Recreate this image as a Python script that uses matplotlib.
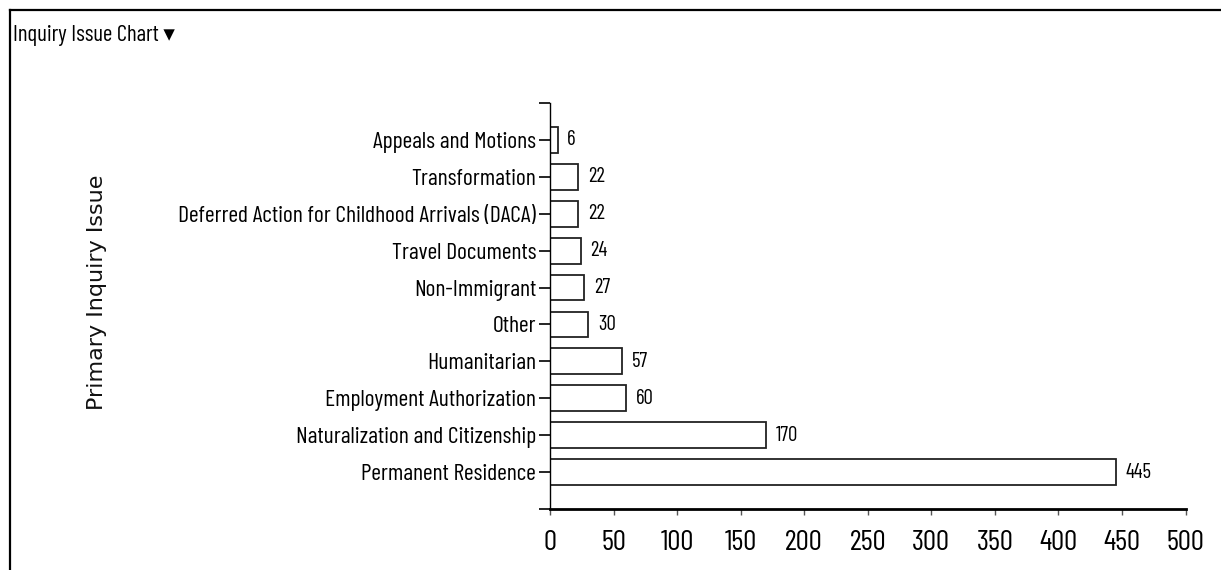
import matplotlib
matplotlib.use("Agg")
import matplotlib.pyplot as plt
from matplotlib.lines import Line2D
import numpy as np

# --- data: inquiry counts by primary issue (top to bottom as shown) ---
issues = [
    "Appeals and Motions",
    "Transformation",
    "Deferred Action for Childhood Arrivals (DACA)",
    "Travel Documents",
    "Non-Immigrant",
    "Other",
    "Humanitarian",
    "Employment Authorization",
    "Naturalization and Citizenship",
    "Permanent Residence",
]
counts = [6, 22, 22, 24, 27, 30, 57, 60, 170, 445]
x_ticks = [0, 50, 100, 150, 200, 250, 300, 350, 400, 450, 500]

# condensed face for the labels, DejaVu as the last resort
narrow = ["Barlow Condensed", "Archivo Narrow", "Liberation Sans Narrow",
          "DejaVu Sans"]

fig = plt.figure(figsize=(12.21, 5.70), dpi=100)
fig.patch.set_facecolor("white")

# panel frame: top and left edge only
fig.add_artist(Line2D([10 / 1221, 1], [1 - 10 / 570, 1 - 10 / 570],
                      transform=fig.transFigure, color="black", lw=1.6))
fig.add_artist(Line2D([10 / 1221, 10 / 1221], [0, 1 - 10 / 570],
                      transform=fig.transFigure, color="black", lw=1.6))

fig.text(13 / 1221, 1 - 35 / 570, "Inquiry Issue Chart \u25be", family=narrow,
         fontsize=16.5, ha="left", va="center", color="black")

ax = fig.add_axes([550 / 1221, 61 / 570, 635.6 / 1221, 406 / 570])

# bottom bar first so the list reads top-down
ypos = np.arange(len(issues))[::-1]
bars = ax.barh(ypos, counts, height=0.7, color="white",
               edgecolor="#222222", linewidth=1.3)
ax.bar_label(bars, labels=[str(c) for c in counts], padding=7,
             family=narrow, fontsize=15)

ax.set_xlim(0, 500)
ax.set_ylim(-1, 10)
ax.set_xticks(x_ticks)
ax.set_xticklabels([str(t) for t in x_ticks], family=narrow, fontsize=21)
ax.set_yticks(ypos)
ax.set_yticklabels(issues, family=narrow, fontsize=17)
ax.set_yticks([-1, 10], minor=True)

ax.tick_params(axis="y", which="both", direction="out", length=8, width=1.2,
               pad=2, color="black")
ax.tick_params(axis="x", direction="out", length=4, width=1, pad=11,
               color="#555555")

for side in ["top", "right"]:
    ax.spines[side].set_visible(False)
ax.spines["left"].set_linewidth(1.0)
ax.spines["bottom"].set_linewidth(2.0)

fig.text(97 / 1221, 1 - 292 / 570, "Primary Inquiry Issue", rotation=90,
         fontsize=16, family="DejaVu Sans", ha="center", va="center",
         color="#111111")

fig.savefig("out.png", dpi=100, facecolor="white")
